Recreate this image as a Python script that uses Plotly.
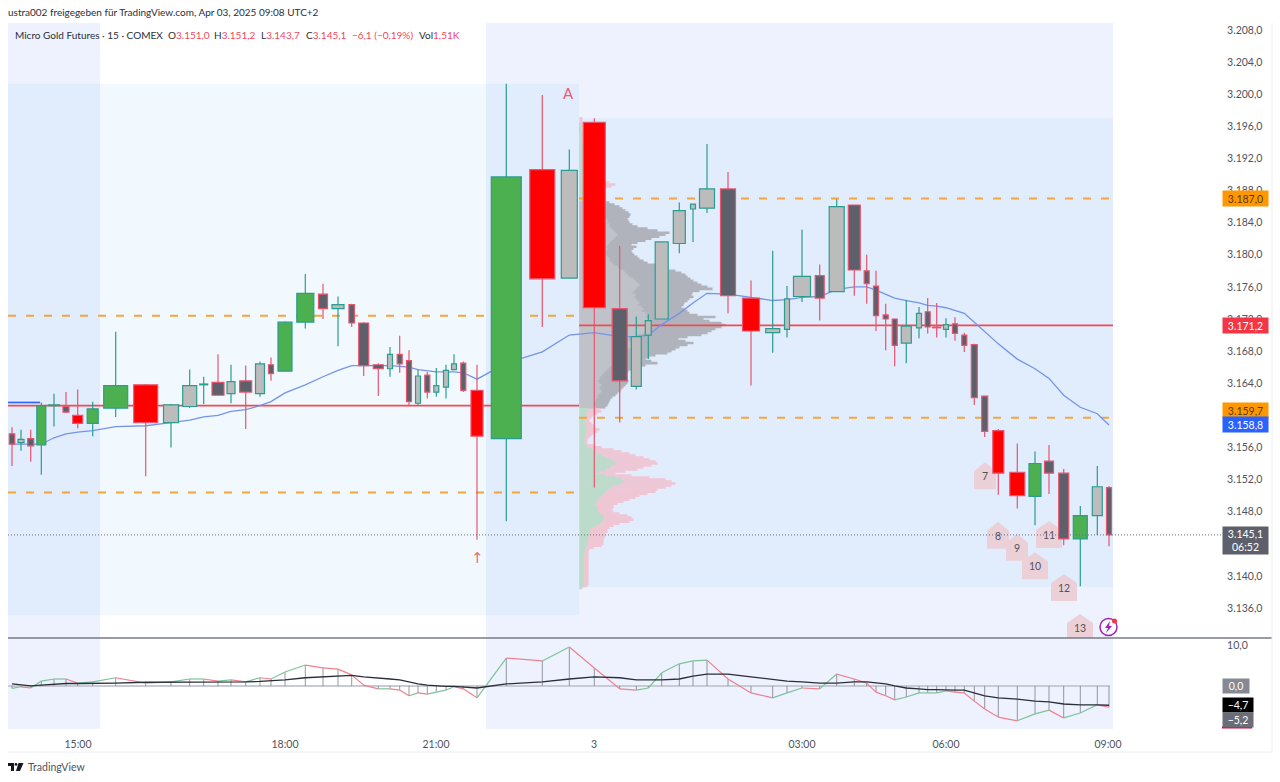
import plotly.graph_objects as go

# candles (x = position on the volume-weighted axis, vol = body width)
bar_x = [12, 21, 30.7, 41.3, 54, 66, 77.7, 92.7, 115.7, 145.7,
         171, 189.7, 203.7, 218, 231, 245.7, 260, 271, 285, 305.3,
         323, 338, 351.7, 363.7, 378.3, 390, 399.7, 409, 418, 427.3,
         436.3, 446, 454, 463.3, 477, 506.3, 542.3, 569.3, 594.3, 619.7,
         636.3, 648.3, 661.7, 679.3, 693, 707, 728, 751, 772.7, 787,
         802, 819.7, 836.7, 854.3, 866.7, 876, 885.7, 894.7, 906.3, 919,
         927.7, 936.7, 946, 955, 964.3, 974.3, 984.7, 998.3, 1017.3, 1035,
         1049, 1063.7, 1080.3, 1097.3, 1109]
bar_vol = [5.5, 6, 6, 9, 11, 6, 10, 11, 24, 24,
           15, 14, 8, 12, 8, 12, 9, 5, 14, 17,
           9, 12, 5.5, 10, 10, 5, 5, 5, 5, 5,
           5, 5, 5, 5, 12, 30, 25, 16, 22, 15,
           10, 6, 13, 12, 5, 15, 15, 17, 14, 5,
           17, 9, 15, 12, 5, 5, 5, 5, 10, 5,
           5, 8, 5, 5, 5, 6, 6, 11, 15, 12,
           9, 10, 14, 10, 5]
bar_kind = ("dudgudrggr" "uuudududgg" "duddduddud" "uuudrgrurd" "uuuuuudruu"
            "ududdddduu" "druddddrrg" "ddgud")
bar_open = [3157.7, 3156.6, 3157.1, 3156.3, 3161.2, 3161.1, 3160.0, 3159.0, 3160.9, 3163.8,
            3159.1, 3161.1, 3163.8, 3164.1, 3162.7, 3164.3, 3162.7, 3166.3, 3165.5, 3171.6,
            3175.1, 3173.3, 3173.8, 3171.5, 3166.3, 3165.8, 3167.6, 3166.8, 3161.5, 3165.0,
            3162.9, 3163.5, 3165.7, 3166.5, 3163.1, 3157.1, 3190.6, 3177.1, 3196.5, 3173.3,
            3163.6, 3170.0, 3172.0, 3181.4, 3185.7, 3185.8, 3188.2, 3174.6, 3170.3, 3170.7,
            3174.8, 3177.4, 3175.4, 3186.2, 3178.0, 3176.1, 3172.5, 3172.0, 3169.0, 3170.9,
            3172.9, 3171.0, 3170.7, 3171.4, 3170.0, 3168.8, 3162.4, 3158.1, 3152.9, 3149.9,
            3154.3, 3152.8, 3144.6, 3147.5, 3151.0]
bar_high = [3158.5, 3158.2, 3158.2, 3161.6, 3162.7, 3162.9, 3163.2, 3161.7, 3170.4, 3163.9,
            3161.4, 3165.7, 3164.8, 3167.6, 3166.3, 3166.2, 3166.7, 3167.2, 3171.7, 3177.6,
            3176.4, 3174.8, 3173.9, 3171.6, 3166.5, 3168.5, 3169.9, 3168.1, 3165.7, 3165.4,
            3165.9, 3166.3, 3167.6, 3166.7, 3166.3, 3201.3, 3199.9, 3193.1, 3197.0, 3181.1,
            3172.3, 3172.6, 3181.6, 3186.5, 3186.3, 3193.8, 3190.3, 3176.8, 3180.5, 3176.1,
            3183.1, 3178.8, 3186.9, 3186.2, 3180.0, 3178.0, 3173.9, 3172.0, 3174.4, 3173.5,
            3174.6, 3174.0, 3172.1, 3172.2, 3170.3, 3168.9, 3162.4, 3158.3, 3156.5, 3155.5,
            3156.3, 3153.3, 3148.7, 3153.7, 3151.2]
bar_low = [3153.7, 3155.6, 3154.2, 3152.6, 3158.6, 3160.3, 3158.4, 3157.4, 3159.8, 3152.4,
           3156.0, 3160.9, 3161.4, 3162.5, 3161.5, 3158.3, 3162.3, 3164.3, 3165.5, 3170.8,
           3172.0, 3168.6, 3171.0, 3164.9, 3162.4, 3164.8, 3165.3, 3161.3, 3161.3, 3162.1,
           3162.3, 3162.1, 3165.6, 3162.9, 3144.5, 3146.8, 3171.0, 3177.1, 3151.0, 3159.1,
           3163.2, 3167.0, 3172.0, 3180.2, 3181.6, 3185.2, 3172.7, 3163.7, 3167.8, 3169.7,
           3174.1, 3171.8, 3175.4, 3174.9, 3173.9, 3170.5, 3168.1, 3166.1, 3166.5, 3169.6,
           3170.2, 3169.7, 3169.7, 3169.3, 3167.9, 3161.3, 3157.3, 3150.1, 3148.4, 3146.3,
           3150.2, 3143.8, 3138.7, 3145.1, 3143.7]
bar_close = [3156.4, 3157.0, 3156.2, 3161.2, 3161.3, 3160.4, 3159.0, 3160.8, 3163.7, 3159.1,
             3161.3, 3163.7, 3163.9, 3162.5, 3164.2, 3162.9, 3166.4, 3165.2, 3171.6, 3175.2,
             3173.3, 3173.8, 3171.5, 3166.2, 3165.8, 3167.6, 3166.4, 3161.7, 3164.9, 3162.9,
             3163.7, 3165.6, 3166.4, 3163.1, 3157.4, 3189.7, 3177.0, 3190.5, 3173.4, 3164.3,
             3169.8, 3171.8, 3181.6, 3185.5, 3186.3, 3188.2, 3174.9, 3170.5, 3170.8, 3174.5,
             3177.3, 3174.6, 3186.0, 3178.1, 3176.4, 3172.4, 3172.0, 3168.7, 3171.1, 3172.7,
             3171.0, 3170.9, 3171.3, 3170.2, 3168.7, 3162.2, 3158.0, 3152.8, 3150.0, 3154.0,
             3152.8, 3144.6, 3147.5, 3151.1, 3145.1]
vwap = [3156.4, 3156.4, 3156.4, 3156.4, 3157.2, 3157.7, 3157.9, 3158.1, 3158.6, 3158.7,
        3159.1, 3159.4, 3159.8, 3160.0, 3160.5, 3160.7, 3161.2, 3161.7, 3162.8, 3163.8,
        3164.8, 3165.6, 3166.2, 3166.2, 3166.2, 3166.2, 3166.1, 3166.0, 3165.7, 3165.5,
        3165.4, 3165.4, 3165.4, 3165.3, 3164.5, 3166.5, 3167.9, 3170.0, 3170.3, 3169.8,
        3169.8, 3170.0, 3171.3, 3172.7, 3174.0, 3175.2, 3175.1, 3174.7, 3174.3, 3174.4,
        3174.7, 3174.8, 3175.7, 3176.0, 3176.0, 3175.6, 3175.1, 3174.6, 3174.3, 3174.0,
        3173.7, 3173.6, 3173.4, 3173.1, 3172.7, 3171.6, 3170.4, 3168.9, 3167.0, 3165.8,
        3164.6, 3162.5, 3161.0, 3160.2, 3158.8]

# oscillator pane
macd = [-0.6, -0.2, -0.5, 1.2, 1.7, 1.7, 0.7, 1.0, 2.0, 0.7,
        1.0, 1.7, 1.7, 1.2, 1.5, 1.0, 2.0, 1.7, 3.4, 5.1,
        4.4, 4.1, 2.7, 0.2, -0.7, -0.7, -1.0, -2.4, -1.7, -2.0,
        -1.5, -1.0, -0.2, -0.7, -2.9, 6.8, 6.1, 9.5, 4.4, -0.7,
        -1.0, -0.5, 3.2, 5.4, 6.1, 6.3, 1.7, -1.7, -2.9, -1.7,
        -0.5, -0.7, 2.9, 1.7, 0.7, -1.5, -2.4, -3.4, -2.7, -1.7,
        -1.7, -1.7, -1.2, -1.5, -1.7, -3.7, -5.6, -7.6, -8.5, -6.8,
        -5.9, -7.8, -6.6, -4.6, -5.2]
signal = [0.5, 0.2, 0.0, 0.2, 0.5, 0.6, 0.6, 0.6, 0.7, 0.9,
          0.9, 1.0, 1.0, 1.0, 1.0, 1.0, 1.1, 1.2, 1.5, 2.0,
          2.2, 2.4, 2.6, 2.2, 2.0, 1.7, 1.5, 1.0, 0.5, 0.2,
          0.0, -0.1, -0.1, -0.2, -0.5, 0.5, 1.0, 1.7, 2.2, 2.0,
          1.5, 1.5, 1.5, 1.7, 2.4, 2.9, 2.9, 2.2, 1.5, 1.2,
          1.0, 0.7, 0.7, 1.0, 1.0, 0.7, 0.5, 0.0, -0.5, -0.7,
          -0.9, -0.9, -1.0, -1.0, -1.0, -1.7, -2.4, -2.9, -3.2, -3.7,
          -3.9, -4.4, -4.6, -4.6, -4.7]

# volume profile rows, top to bottom (total and up volume)
vp_top = 3197.0
vp_step = 0.25
vp_total = [3, 3, 3, 4, 4, 3, 4, 4, 5, 5, 4, 5, 5, 6, 6, 5,
            6, 7, 7, 8, 8, 9, 9, 10, 11, 12, 12, 14, 15, 16, 18,
            24, 30, 36, 32, 26, 22, 18, 16, 15, 17,
            25, 30, 35, 40, 43, 46, 49, 51, 50, 48, 49, 50,
            53, 58, 68, 78, 90, 86, 80, 72, 66, 58,
            52, 57, 54, 52, 53, 55, 58, 60, 64, 68,
            76, 84, 89, 96, 102, 106, 108, 111, 114, 118,
            122, 128, 133, 120, 113, 112, 114, 110, 108, 105,
            104, 102, 105, 108, 110, 118, 136, 124, 130, 142,
            146, 142, 136, 132, 128, 122, 108, 99, 106, 114,
            108, 100, 96, 92, 88, 76, 70, 66, 72, 78,
            66, 62, 56, 49, 46, 44, 46, 48, 49, 48, 46, 44, 42, 41, 38, 36, 33, 31, 30, 29, 28, 26,
            20, 22, 18, 14, 12, 10, 10, 12, 14, 16,
            20, 18, 14, 12, 10, 8, 8, 8, 14, 22,
            34, 42, 50, 56, 64, 70, 76, 78, 72, 64,
            58, 46, 36, 52, 70, 86, 92, 96, 92, 86,
            78, 76, 68, 60, 56, 50, 44, 38, 34, 34,
            32, 34, 40, 48, 52, 54, 50, 40, 34, 30,
            28, 28, 26, 26, 25, 24, 24, 24, 22, 14,
            10, 9, 9, 9, 9, 9, 9, 9, 9, 9,
            9, 9, 9, 9, 9, 9, 9, 9, 8, 3]
vp_up = [0, 0, 0, 1, 1, 1, 1, 1, 2, 2, 2, 2, 2, 3, 3, 3,
         3, 3, 4, 4, 4, 4, 4, 4, 4, 4, 5, 5, 5, 5, 5,
         5, 5, 5, 5, 5, 5, 4, 4, 4, 4,
         14, 14, 16, 18, 20, 22, 24, 24, 26, 26, 28, 28,
         30, 30, 32, 34, 36, 38, 36, 34, 32, 30,
         28, 26, 28, 26, 24, 26, 28, 30, 30, 32,
         34, 38, 40, 44, 46, 48, 50, 54, 56, 58,
         60, 58, 56, 54, 52, 56, 54, 56, 58, 60,
         58, 62, 64, 62, 66, 68, 66, 70, 68, 72,
         74, 70, 68, 66, 64, 58, 50, 46, 50, 56,
         54, 52, 48, 46, 40, 36, 36, 38, 40, 38,
         32, 30, 28, 26, 24, 22, 20, 20, 18, 20, 22, 20, 20, 22, 20, 18, 18, 16, 16, 14, 14, 16,
         8, 8, 7, 6, 6, 5, 5, 5, 6, 6,
         7, 7, 6, 6, 5, 5, 5, 5, 6, 8,
         12, 14, 18, 22, 26, 30, 34, 36, 32, 30,
         26, 20, 16, 26, 36, 42, 44, 40, 34, 30,
         28, 26, 24, 22, 20, 18, 18, 16, 16, 18,
         18, 18, 20, 24, 24, 24, 22, 20, 16, 12,
         10, 10, 10, 9, 9, 8, 8, 8, 7, 6,
         5, 5, 5, 4, 4, 4, 4, 4, 4, 4,
         4, 4, 4, 4, 4, 4, 4, 4, 4, 2]
vp_start = 579.5
va_high = 3186.7
va_low = 3160.9

# session / profile levels
poc_prev = 3161.2
poc_now = 3171.2
vah_prev = 3172.4
val_prev = 3150.4
vah_now = 3187.0
val_now = 3159.7
vwap_prev = 3161.6
last_price = 3145.1
split_x = 579
session_breaks = [(8, 100), (486, 1113)]
prev_box = (8, 579, 3135.1, 3201.3)
now_box = (579, 1113, 3138.6, 3197.0)

# numbered signal tags
tag_text = ["7", "8", "9", "10", "11", "12", "13"]
tag_x = [985, 998, 1017, 1035, 1049, 1064, 1080]
tag_price = [3152.4, 3145.0, 3143.5, 3141.2, 3145.1, 3138.5, 3133.5]

# axes
price_ticks = [3136 + 4 * i for i in range(19)]
time_pos = [78, 285, 436, 594, 802, 946, 1108]
time_text = ["15:00", "18:00", "21:00", "3", "03:00", "06:00", "09:00"]

FONT = "Lato"
TXT = "#50535e"
UP = "#2a9d8f"
DOWN = "#e8556d"
W, H = 1280, 782
LEFT, RIGHT, TOP, BOTTOM = 8, 1222, 23, 729


def px(x):
    return (x - LEFT) / (RIGHT - LEFT)


def py(y):
    return (BOTTOM - y) / (BOTTOM - TOP)


fig = go.Figure()

# volume profile
vp_levels = [vp_top - i * vp_step for i in range(len(vp_total))]
in_va = [va_low <= p <= va_high for p in vp_levels]
fig.add_trace(go.Bar(x=vp_total, y=vp_levels, base=vp_start, orientation="h", width=vp_step * 1.3,
                     marker=dict(color=["#b0b3bc" if v else "#efc6d3" for v in in_va], line_width=0),
                     xaxis="x", yaxis="y", zorder=0))
fig.add_trace(go.Bar(x=vp_up, y=vp_levels, base=vp_start, orientation="h", width=vp_step * 1.3,
                     marker=dict(color=["#c0c2ca" if v else "#bbdccb" for v in in_va], line_width=0),
                     xaxis="x", yaxis="y", zorder=0))


def hline(x0, x1, y, color, width, dash="solid", z=1):
    fig.add_trace(go.Scatter(x=[x0, x1], y=[y, y], mode="lines", xaxis="x", yaxis="y", zorder=z,
                             line=dict(color=color, width=width, dash=dash)))


hline(LEFT, split_x, poc_prev, "#f44a4f", 1.8)
hline(split_x, 1113, poc_now, "#f44a4f", 1.8)
for level, x0, x1 in [(vah_prev, LEFT, split_x), (val_prev, LEFT, split_x),
                      (vah_now, split_x, 1113), (val_now, split_x, 1113)]:
    hline(x0, x1, level, "#f2a63c", 2, "8px,10px")
hline(LEFT, 40, vwap_prev, "#2962ff", 1.6)

fig.add_trace(go.Scatter(x=bar_x, y=vwap, mode="lines", xaxis="x", yaxis="y", zorder=1,
                         line=dict(color="#7494ea", width=1.3)))

# candles, one body and wick group per style
styles = {"g": ("#4caf50", UP), "r": ("#ff0000", DOWN), "u": ("#bcbcbc", UP), "d": ("#5d606b", DOWN)}
for kind, (fill, edge) in styles.items():
    idx = [i for i, k in enumerate(bar_kind) if k == kind]
    wick_x, wick_y = [], []
    for i in idx:
        wick_x += [bar_x[i], bar_x[i], None]
        wick_y += [bar_high[i], bar_low[i], None]
    fig.add_trace(go.Scatter(x=wick_x, y=wick_y, mode="lines", xaxis="x", yaxis="y", zorder=2,
                             line=dict(color=edge, width=1.2)))
    fig.add_trace(go.Bar(x=[bar_x[i] for i in idx],
                         y=[abs(bar_close[i] - bar_open[i]) for i in idx],
                         base=[min(bar_open[i], bar_close[i]) for i in idx],
                         width=[bar_vol[i] for i in idx],
                         marker=dict(color=fill, line=dict(color=edge, width=1.2)),
                         xaxis="x", yaxis="y", zorder=3))

hline(LEFT, RIGHT, last_price, "#6a6d78", 1, "1px,2px", z=5)

# oscillator
hist_x, hist_y = [], []
for x, v in zip(bar_x, macd):
    hist_x += [x, x, None]
    hist_y += [0, v, None]
fig.add_trace(go.Scatter(x=[LEFT, 1110], y=[0, 0], mode="lines", xaxis="x", yaxis="y2",
                         line=dict(color="#c8cbd3", width=2)))
fig.add_trace(go.Scatter(x=hist_x, y=hist_y, mode="lines", xaxis="x", yaxis="y2",
                         line=dict(color="#7b7e88", width=0.8)))
up_x, up_y, dn_x, dn_y = [], [], [], []
for i in range(1, len(macd)):
    if macd[i] >= macd[i - 1]:
        up_x += [bar_x[i - 1], bar_x[i], None]
        up_y += [macd[i - 1], macd[i], None]
    else:
        dn_x += [bar_x[i - 1], bar_x[i], None]
        dn_y += [macd[i - 1], macd[i], None]
fig.add_trace(go.Scatter(x=up_x, y=up_y, mode="lines", xaxis="x", yaxis="y2", line=dict(color="#7cc496", width=1.2)))
fig.add_trace(go.Scatter(x=dn_x, y=dn_y, mode="lines", xaxis="x", yaxis="y2", line=dict(color="#f0808f", width=1.2)))
fig.add_trace(go.Scatter(x=bar_x, y=signal, mode="lines", xaxis="x", yaxis="y2", line=dict(color="#2a2e39", width=1.3)))

# background bands and boxes
shapes = []
for x0, x1 in session_breaks:
    shapes.append(dict(type="rect", layer="below", xref="x", yref="paper", x0=x0, x1=x1, y0=0, y1=1,
                       fillcolor="#edf2fe", line_width=0))
for x0, x1, y0, y1 in [prev_box, now_box]:
    shapes.append(dict(type="rect", layer="below", xref="x", yref="y", x0=x0, x1=x1, y0=y0, y1=y1,
                       fillcolor="rgba(33,150,243,0.06)", line_width=0))
for x, p, t in zip(tag_x, tag_price, tag_text):
    half = 11 if len(t) == 1 else 13
    shapes.append(dict(type="path", layer="below", xref="x", yref="y", xsizemode="pixel", ysizemode="pixel",
                       xanchor=x, yanchor=p, fillcolor="#ecd0d8", line_width=0,
                       path=f"M {-half} -13 L {-half} 5 L 0 14 L {half} 5 L {half} -13 Z"))

# frame and pane separator
shapes += [
    dict(type="line", xref="paper", yref="paper", x0=px(8), x1=px(1272), y0=py(638), y1=py(638),
         line=dict(color="#787b86", width=1.3)),
    dict(type="line", xref="paper", yref="paper", x0=px(8), x1=px(1272), y0=py(752), y1=py(752),
         line=dict(color="#eceef2", width=1)),
    dict(type="line", xref="paper", yref="paper", x0=px(1272), x1=px(1272), y0=py(23), y1=py(752),
         line=dict(color="#eceef2", width=1)),
    # alert icon
    dict(type="circle", xref="paper", yref="paper", x0=px(1100), x1=px(1117), y0=py(635.5), y1=py(618.5),
         line=dict(color="#9c27b0", width=1.5), fillcolor="rgba(255,255,255,0.4)"),
    dict(type="path", xref="paper", yref="paper", fillcolor="#9c27b0", line_width=0,
         path=f"M {px(1110)} {py(621)} L {px(1105)} {py(628)} L {px(1108)} {py(628)} L {px(1106)} {py(633)} "
              f"L {px(1112)} {py(626)} L {px(1109)} {py(626)} Z"),
    dict(type="circle", xref="paper", yref="paper", x0=px(1112), x1=px(1117), y0=py(623.5), y1=py(618.5),
         fillcolor="#f23645", line_width=0),
    # TradingView logo
    dict(type="path", xref="paper", yref="paper", fillcolor="#131722", line_width=0,
         path=f"M {px(8)} {py(763)} L {px(14)} {py(763)} L {px(14)} {py(771)} L {px(11)} {py(771)} "
              f"L {px(11)} {py(766)} L {px(8)} {py(766)} Z "
              f"M {px(18.5)} {py(763)} L {px(23.5)} {py(763)} L {px(20)} {py(771)} L {px(16)} {py(771)} Z"),
    dict(type="circle", xref="paper", yref="paper", x0=px(14.6), x1=px(17.4), y0=py(765.8), y1=py(763),
         fillcolor="#131722", line_width=0),
]

# texts
notes = []


def paper_text(x, y, text, size, color=TXT, anchor="left"):
    notes.append(dict(xref="paper", yref="paper", x=px(x - 2), y=py(y), text=text, showarrow=False,
                      xanchor=anchor, yanchor="middle", font=dict(family=FONT, size=size, color=color)))


def price_label(price, text, bg, fg="#ffffff", x0=1222, w=45, h=15, yshift=0, size=10.5):
    notes.append(dict(xref="paper", yref="y", x=px(x0), y=price, text=text, showarrow=False,
                      xanchor="left", yanchor="middle", width=w, height=h, bgcolor=bg, borderpad=0,
                      align="center", yshift=yshift, font=dict(family=FONT, size=size, color=fg)))


def osc_label(value, text, bg, x0=1222, w=30, h=14, yshift=0):
    notes.append(dict(xref="paper", yref="y2", x=px(x0), y=value, text=text, showarrow=False,
                      xanchor="left", yanchor="middle", width=w, height=h, bgcolor=bg, borderpad=0,
                      align="center", yshift=yshift, font=dict(family=FONT, size=10.5, color="#ffffff")))


red = "#f0475a"
ink = "#2a2e39"
paper_text(8, 12, "ustra002 freigegeben für TradingView.com, Apr 03, 2025 09:08 UTC+2", 10, ink)
paper_text(15, 35, "Micro Gold Futures · 15 · COMEX", 10, ink)
for x, head, value in [(168, "O", "3.151,0"), (214, "H", "3.151,2"), (261, "L", "3.143,7"),
                       (306, "C", "3.145,1"), (352, "", "−6,1 (−0,19%)"), (419, "Vol", "1,51K")]:
    paper_text(x, 35, f"{head}<span style='color:{red}'>{value}</span>", 10, ink)
paper_text(28, 767, "TradingView", 10.5, "#50535e")

price_label(vah_now, "3.187,0", "#ff9800", "#5a3a00")
price_label(poc_now, "3.171,2", "#f23645")
price_label(val_now, "3.159,7", "#ff9800", "#5a3a00", yshift=7)
price_label(vwap[-1], "3.158,8", "#2962ff")
price_label(last_price, "3.145,1<br>06:52", "#5d606b", h=27, yshift=-6)
osc_label(0, "0,0", "#868993", w=26, h=14)
osc_label(signal[-1], "−4,7", "#000000")
osc_label(macd[-1], "−5,2", "#6a6d78", yshift=-13)
shapes.append(dict(type="line", xref="paper", yref="paper", x0=px(1222), x1=px(1252), y0=py(727.5), y1=py(727.5),
                   line=dict(color="#c8102e", width=2)))

notes.append(dict(x=568, y=3200.2, xref="x", yref="y", text="A", showarrow=False,
                  font=dict(family=FONT, size=15, color="#ee5a73")))
notes.append(dict(x=477, y=3142.2, xref="x", yref="y", text="↑", showarrow=False,
                  font=dict(family="DejaVu Sans", size=15, color="#ee6b7e")))
for x, p, t in zip(tag_x, tag_price, tag_text):
    notes.append(dict(x=x, y=p, xref="x", yref="y", text=t, showarrow=False,
                      font=dict(family=FONT, size=10.5, color="#50535e")))

axis_font = dict(family=FONT, size=10.5, color=TXT)
fig.update_layout(
    width=W, height=H,
    margin=dict(l=LEFT, r=W - RIGHT, t=TOP, b=H - BOTTOM),
    paper_bgcolor="white",
    plot_bgcolor="white",
    showlegend=False,
    barmode="overlay",
    separators=",.",
    shapes=shapes,
    annotations=notes,
    xaxis=dict(range=[LEFT, RIGHT], anchor="y2", tickmode="array", tickvals=time_pos, ticktext=time_text,
               tickfont=axis_font, showgrid=False, zeroline=False, ticks="outside", ticklen=5,
               tickcolor="rgba(0,0,0,0)"),
    yaxis=dict(domain=[(BOTTOM - 638) / (BOTTOM - TOP), 1], range=[3132.26, 3208.87], side="right", anchor="x",
               tickmode="array", tickvals=price_ticks, tickformat=",.1f", tickfont=axis_font,
               showgrid=False, zeroline=False, ticks="outside", ticklen=2, tickcolor="rgba(0,0,0,0)"),
    yaxis2=dict(domain=[0, (BOTTOM - 638) / (BOTTOM - TOP)], range=[-10.5, 11.7], side="right", anchor="x",
                tickmode="array", tickvals=[10], tickformat=".1f", tickfont=axis_font,
                showgrid=False, zeroline=False, ticks="outside", ticklen=2, tickcolor="rgba(0,0,0,0)"),
)

fig.write_html("out.html", config=dict(displayModeBar=False),
               post_script="document.body.style.margin='0';document.documentElement.style.overflow='hidden';")
